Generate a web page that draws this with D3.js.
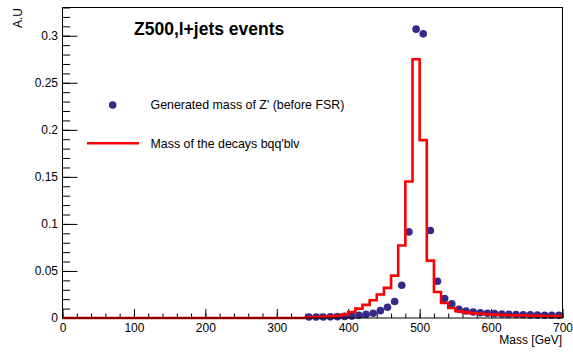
<!doctype html>
<html lang="">
    <head>
        <meta charset="utf-8">
        <title>Z500 mass</title>
        <style type="text/css">
        body {
          margin: 0;
          background: #fff;
          font-family: "Liberation Sans", Arial, sans-serif;
        }
        .axis text {
          font-size: 12px;
          font-family: "Liberation Sans", Arial, sans-serif;
          fill: #000;
        }
        .axis line {
          stroke: #000;
        }
        </style>
    </head>
    <body>
        <div id="root"></div>

        <script src="https://d3js.org/d3.v7.min.js"></script>
        <script>

        var width = 573,
            height = 352;

        // generated Z' mass (points at bin centres, GeV)
        var pointMass = [345, 355, 365, 375, 385, 395, 405, 415, 425, 435, 445, 455,
                         465, 475, 485, 495, 505, 515, 525, 535, 545, 555, 565, 575,
                         585, 595, 605, 615, 625, 635, 645, 655, 665, 675, 685, 695];
        var pointValue = [0.001, 0.001, 0.001, 0.0012, 0.0014, 0.0017, 0.002, 0.0028,
                          0.0038, 0.005, 0.0078, 0.0115, 0.0175, 0.0348, 0.0915, 0.307,
                          0.302, 0.093, 0.039, 0.0206, 0.015, 0.0093, 0.0074, 0.0063,
                          0.0056, 0.0051, 0.0047, 0.0043, 0.004, 0.0037, 0.0035, 0.0033,
                          0.0031, 0.003, 0.0029, 0.0028];

        // decay products mass histogram, 10 GeV bins from 0 to 700
        var binWidth = 10;
        var histValue = [0, 0, 0, 0, 0, 0, 0, 0, 0, 0,
                         0, 0, 0, 0, 0, 0, 0, 0, 0, 0,
                         0, 0, 0, 0, 0, 0, 0, 0, 0, 0,
                         0, 0, 0, 0,
                         0.0008, 0.001, 0.0013, 0.0017, 0.0022, 0.0036,
                         0.0064, 0.010, 0.014, 0.0188, 0.025, 0.032, 0.045, 0.077, 0.145, 0.275,
                         0.189, 0.061, 0.0277, 0.016, 0.0107, 0.0071, 0.006, 0.005, 0.0045, 0.004,
                         0.0036, 0.0033, 0.003, 0.0028, 0.0026, 0.0024, 0.0023, 0.0022, 0.0021, 0.002];

        var xTicks = [0, 100, 200, 300, 400, 500, 600, 700];
        var yTicks = [0, 0.05, 0.1, 0.15, 0.2, 0.25, 0.3];

        var titleText = "Z500,l+jets events";
        var legendText = ["Generated mass of Z' (before FSR)", "Mass of the decays bqq'blv"];

        var margin = {left: 62.5, right: 10.5, top: 7.5, bottom: 34};
        var pw = width - margin.left - margin.right,
            ph = height - margin.top - margin.bottom;

        var x = d3.scaleLinear().domain([0, 700]).range([0, pw]);
        var y = d3.scaleLinear().domain([0, 0.33]).range([ph, 0]);

        var svg = d3.select("#root").append("svg")
            .attr("width", width)
            .attr("height", height);

        var g = svg.append("g")
            .attr("transform", "translate(" + margin.left + "," + margin.top + ")");

        // minor ticks
        g.append("g")
            .attr("class", "axis")
            .attr("transform", "translate(0," + ph + ")")
            .call(d3.axisBottom(x).tickValues(d3.range(0, 701, 20)).tickSize(-4.5).tickFormat(""))
            .call(function(s) { s.select(".domain").remove(); });
        g.append("g")
            .attr("class", "axis")
            .call(d3.axisLeft(y).tickValues(d3.range(0, 34).map(function(i) { return i / 100; })).tickSize(-7.5).tickFormat(""))
            .call(function(s) { s.select(".domain").remove(); });

        // major ticks + labels
        g.append("g")
            .attr("class", "axis")
            .attr("transform", "translate(0," + ph + ")")
            .call(d3.axisBottom(x).tickValues(xTicks).tickSize(-9).tickPadding(5.5).tickFormat(d3.format("d")))
            .call(function(s) { s.select(".domain").remove(); });
        g.append("g")
            .attr("class", "axis")
            .call(d3.axisLeft(y).tickValues(yTicks).tickSize(-15).tickPadding(4.5)
                .tickFormat(function(d) { return String(+d.toFixed(2)); }))
            .call(function(s) { s.select(".domain").remove(); });

        // points
        g.append("g").selectAll("circle")
            .data(pointMass)
            .enter().append("circle")
            .attr("cx", function(d) { return x(d); })
            .attr("cy", function(d, i) { return y(pointValue[i]); })
            .attr("r", 3.8)
            .attr("fill", "#352a88");

        // step histogram
        var steps = [];
        histValue.forEach(function(v, i) {
            steps.push([i * binWidth, v]);
            steps.push([(i + 1) * binWidth, v]);
        });
        g.append("path")
            .datum(steps)
            .attr("fill", "none")
            .attr("stroke", "#ff0000")
            .attr("stroke-width", 2.6)
            .attr("d", d3.line()
                .x(function(d) { return x(d[0]); })
                .y(function(d) { return y(d[1]); }));

        // frame
        g.append("rect")
            .attr("width", pw)
            .attr("height", ph)
            .attr("fill", "none")
            .attr("stroke", "#000")
            .attr("stroke-width", 1);

        // axis titles
        svg.append("text")
            .attr("x", 562)
            .attr("y", 344)
            .attr("text-anchor", "end")
            .style("font-size", "12px")
            .text("Mass [GeV]");
        svg.append("text")
            .attr("transform", "translate(22,8) rotate(-90)")
            .attr("text-anchor", "end")
            .style("font-size", "12px")
            .text("A.U");

        // title
        svg.append("text")
            .attr("x", 134)
            .attr("y", 35)
            .style("font-size", "17.5px")
            .style("font-weight", "bold")
            .text(titleText);

        // legend
        svg.append("circle")
            .attr("cx", 112.7)
            .attr("cy", 105)
            .attr("r", 3.8)
            .attr("fill", "#352a88");
        svg.append("text")
            .attr("x", 150.5)
            .attr("y", 109)
            .style("font-size", "12.4px")
            .text(legendText[0]);
        svg.append("line")
            .attr("x1", 87).attr("x2", 139)
            .attr("y1", 143.3).attr("y2", 143.3)
            .attr("stroke", "#ff0000")
            .attr("stroke-width", 2.6);
        svg.append("text")
            .attr("x", 150.5)
            .attr("y", 147.5)
            .style("font-size", "12.4px")
            .text(legendText[1]);

        </script>
    </body>
</html>
